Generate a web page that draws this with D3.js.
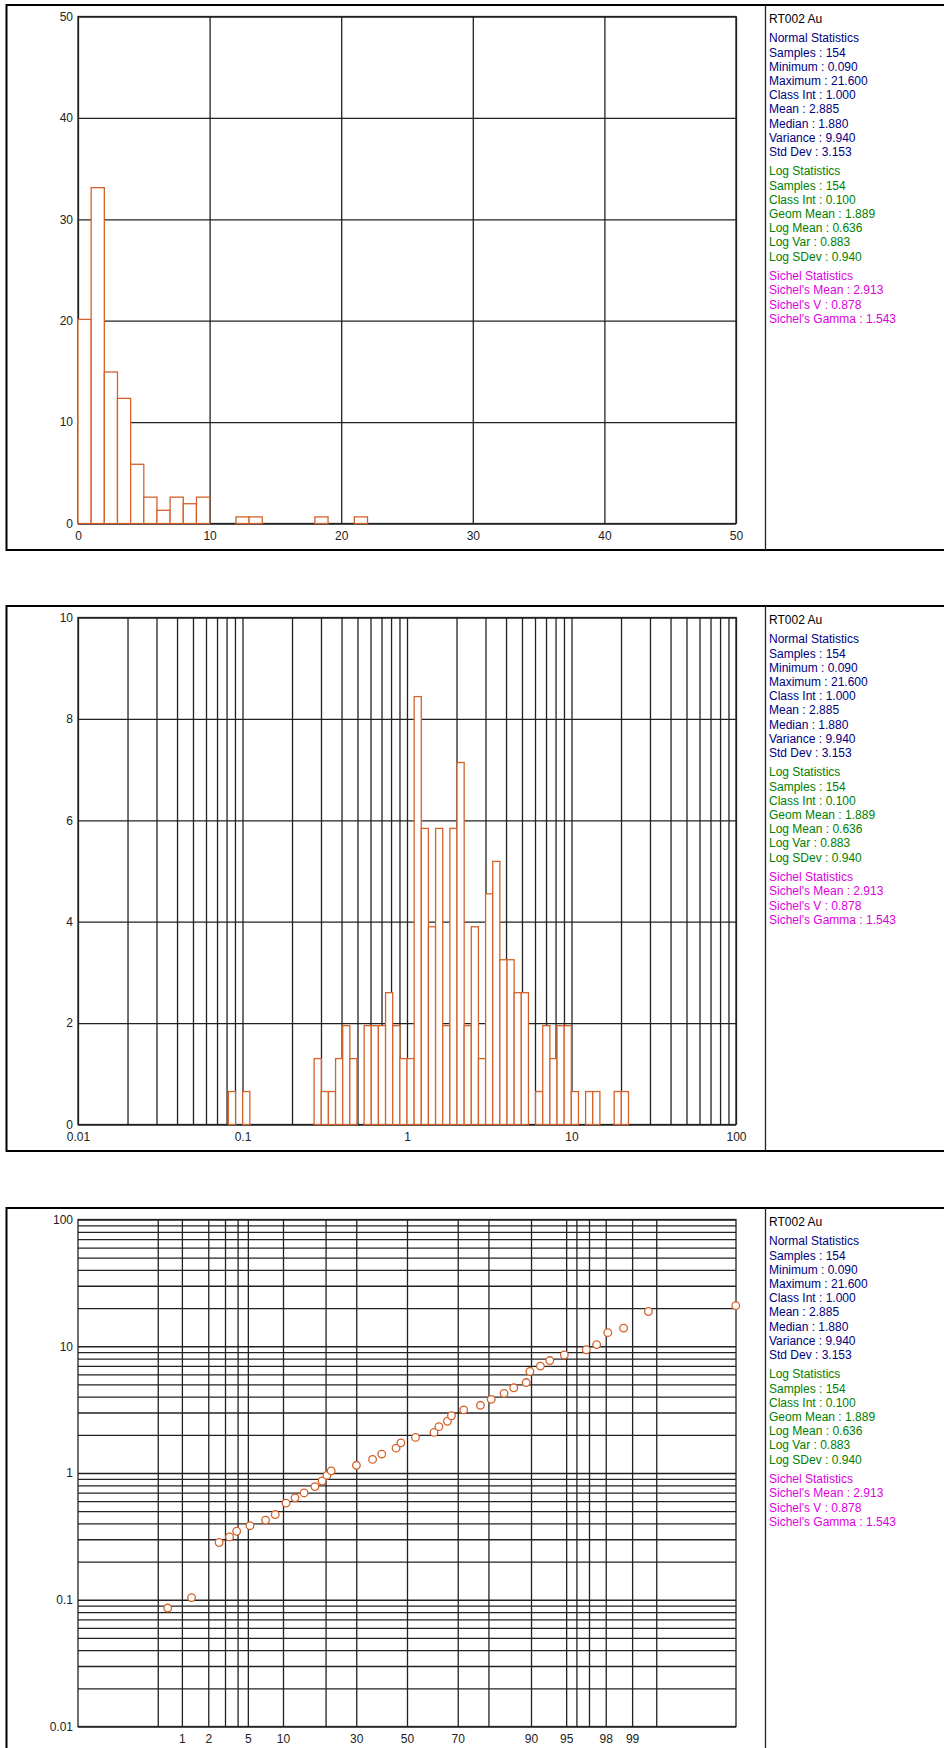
<!DOCTYPE html>
<html>
<head>
<meta charset="utf-8">
<script src="https://cdn.jsdelivr.net/npm/d3@7"></script>
<style>
  html, body { margin: 0; padding: 0; background: #fff; }
  svg { display: block; }
  text { font-family: "Liberation Sans", Arial, sans-serif; font-size: 12px; }
</style>
</head>
<body>
<svg id="page" width="944" height="1748"></svg>
<script>
// ---------- Data: RT002 Au, 154 samples ----------

// Linear histogram (class interval 1.0), lower bin edges and % of samples
const linBinStart = [0, 1, 2, 3, 4, 5, 6, 7, 8, 9, 12, 13, 18, 21];
const linPct      = [20.13, 33.12, 14.94, 12.34, 5.84, 2.60, 1.30, 2.60, 1.95, 2.60, 0.65, 0.65, 0.65, 0.65];
const linTicks    = [0, 10, 20, 30, 40, 50];
const linPctTicks = [0, 10, 20, 30, 40, 50];

// Log histogram (class interval 0.1 in ln units): class index k covers [e^(0.1k), e^(0.1(k+1)))
const logClassInt = 0.1;
const logBinIndex = [-25, -23, -13, -12, -11, -10, -9, -8, -6, -5, -4, -3, -2, -1, 0, 1, 2, 3, 4, 5, 6, 7,
                     8, 9, 10, 11, 12, 13, 14, 15, 16, 18, 19, 20, 21, 22, 23, 25, 26, 29, 30];
const logPct      = [0.65, 0.65, 1.30, 0.65, 0.65, 1.30, 1.95, 1.30, 1.95, 1.95, 1.95, 2.60, 1.95, 1.30, 1.30,
                     8.44, 5.84, 3.90, 5.84, 1.95, 5.84, 7.14,
                     1.95, 3.90, 1.30, 4.55, 5.19, 3.25, 3.25, 2.60, 2.60, 0.65, 1.95, 1.30, 1.95, 1.95, 0.65,
                     0.65, 0.65, 0.65, 0.65];
const logDecadeLabels = [0.01, 0.1, 1, 10, 100];
const logPctTicks = [0, 2, 4, 6, 8, 10];

// Cumulative probability plot: cumulative % and value
const probPct = [0.67, 1.30, 2.61, 3.33, 3.92, 5.23, 7.19, 8.66, 10.56, 12.36, 14.37, 17.06, 19.02, 20.4, 21.66,
                 30.05, 36.1, 39.7, 45.5, 47.5, 53.5, 61.0, 62.9, 66.2, 67.7, 72.1, 77.6, 80.8, 84.2, 86.5,
                 89.1, 89.8, 91.6, 93.0, 94.8, 96.8, 97.5, 98.1, 98.74, 99.37, 99.966];
const probValue = [0.086, 0.104, 0.283, 0.313, 0.347, 0.384, 0.425, 0.470, 0.579, 0.637, 0.696, 0.781, 0.865, 0.957, 1.04,
                   1.15, 1.28, 1.41, 1.57, 1.73, 1.91, 2.09, 2.32, 2.56, 2.83, 3.15, 3.42, 3.81, 4.25, 4.70,
                   5.17, 6.33, 6.97, 7.71, 8.54, 9.38, 10.3, 12.8, 13.9, 18.8, 20.9];
const probGridPct  = [0.5, 1, 2, 3, 4, 5, 10, 20, 30, 50, 70, 80, 90, 95, 96, 97, 98, 99, 99.5];
const probLabelPct = [1, 2, 5, 10, 30, 50, 70, 90, 95, 98, 99];
const probZExtent  = [-3.4, 3.4];
const valueDecadeLabels = [0.01, 0.1, 1, 10, 100];

// Statistics panel
const statTitle = "RT002 Au";
const normalStats = ["Normal Statistics", "Samples : 154", "Minimum : 0.090", "Maximum : 21.600", "Class Int : 1.000",
                     "Mean : 2.885", "Median : 1.880", "Variance : 9.940", "Std Dev : 3.153"];
const logStats = ["Log Statistics", "Samples : 154", "Class Int : 0.100", "Geom Mean : 1.889", "Log Mean : 0.636",
                  "Log Var : 0.883", "Log SDev : 0.940"];
const sichelStats = ["Sichel Statistics", "Sichel's Mean : 2.913", "Sichel's V : 0.878", "Sichel's Gamma : 1.543"];

// ---------- Layout & style ----------
const frameTops = [5, 606, 1208];
const frameLeft = 6.5, frameHeight = 545;
const plotLeft = 78, plotRight = 736, plotOffset = 11.5, plotHeight = 507;
const dividerX = 765.5, statX = 769;
const barColor = "#d4622a";
const gridColor = "#222";
const statColors = { title: "#000", normal: "#000080", log: "#008000", sichel: "#dd00dd" };

const svg = d3.select("#page");

// Inverse standard normal CDF (Acklam's rational approximation)
function probit(p) {
  const a = [-3.969683028665376e+01, 2.209460984245205e+02, -2.759285104469687e+02, 1.383577518672690e+02, -3.066479806614716e+01, 2.506628277459239e+00];
  const b = [-5.447609879822406e+01, 1.615858368580409e+02, -1.556989798598866e+02, 6.680131188771972e+01, -1.328068155288572e+01];
  const c = [-7.784894002430293e-03, -3.223964580411365e-01, -2.400758277161838e+00, -2.549732539343734e+00, 4.374664141464968e+00, 2.938163982698783e+00];
  const d = [7.784695709041462e-03, 3.224671290700398e-01, 2.445134137142996e+00, 3.754408661907416e+00];
  const pl = 0.02425, ph = 1 - pl;
  let q, r;
  if (p < pl) {
    q = Math.sqrt(-2 * Math.log(p));
    return (((((c[0]*q+c[1])*q+c[2])*q+c[3])*q+c[4])*q+c[5]) / ((((d[0]*q+d[1])*q+d[2])*q+d[3])*q+1);
  }
  if (p <= ph) {
    q = p - 0.5; r = q * q;
    return (((((a[0]*r+a[1])*r+a[2])*r+a[3])*r+a[4])*r+a[5])*q / (((((b[0]*r+b[1])*r+b[2])*r+b[3])*r+b[4])*r+1);
  }
  q = Math.sqrt(-2 * Math.log(1 - p));
  return -(((((c[0]*q+c[1])*q+c[2])*q+c[3])*q+c[4])*q+c[5]) / ((((d[0]*q+d[1])*q+d[2])*q+d[3])*q+1);
}

// Multiples 1..9 of each decade between lo and hi
function logGrid(lo, hi) {
  const out = [];
  for (let e = Math.round(Math.log10(lo)); e < Math.round(Math.log10(hi)); e++) {
    for (let m = 1; m <= 9; m++) out.push(+(m * Math.pow(10, e)).toPrecision(3));
  }
  out.push(hi);
  return out;
}

function styleAxis(g) {
  g.select(".domain").remove();
  g.selectAll(".tick line").attr("stroke", gridColor).attr("stroke-width", 1.3);
  g.selectAll(".tick text")
    .attr("fill", "#222")
    .style("font-family", '"Liberation Sans", Arial, sans-serif')
    .style("font-size", "12px");
}

function drawFrame(top) {
  svg.append("rect")
    .attr("x", frameLeft).attr("y", top)
    .attr("width", 1000).attr("height", frameHeight)
    .attr("fill", "none").attr("stroke", "#000").attr("stroke-width", 2);
  svg.append("line")
    .attr("x1", dividerX).attr("x2", dividerX)
    .attr("y1", top).attr("y2", top + frameHeight)
    .attr("stroke", "#222").attr("stroke-width", 1.3);
  drawStats(top);
}

function drawStats(top) {
  const g = svg.append("g");
  const lineH = 14.2, groupGap = 4.8;
  let y = top + 18.3;
  g.append("text").attr("x", statX).attr("y", y).attr("fill", statColors.title).text(statTitle);
  y += lineH + groupGap;
  [[normalStats, statColors.normal], [logStats, statColors.log], [sichelStats, statColors.sichel]]
    .forEach(([lines, col], gi) => {
      if (gi > 0) y += groupGap + 0.5;
      lines.forEach(t => {
        g.append("text").attr("x", statX).attr("y", y).attr("fill", col).text(t);
        y += lineH;
      });
    });
}

function plotBorder(g, h) {
  g.append("rect")
    .attr("x", 0).attr("y", 0)
    .attr("width", plotRight - plotLeft).attr("height", h)
    .attr("fill", "none").attr("stroke", gridColor).attr("stroke-width", 1.3);
}

const plotW = plotRight - plotLeft;

// ---------- Chart 1: linear histogram ----------
(function () {
  const top = frameTops[0];
  drawFrame(top);
  const g = svg.append("g").attr("transform", `translate(${plotLeft},${top + plotOffset})`);
  const x = d3.scaleLinear().domain([0, 50]).range([0, plotW]);
  const y = d3.scaleLinear().domain([0, 50]).range([plotHeight, 0]);

  g.append("g").call(d3.axisLeft(y).tickValues(linPctTicks).tickSize(-plotW).tickPadding(5).tickFormat(d3.format("d"))).call(styleAxis);
  g.append("g").attr("transform", `translate(0,${plotHeight})`)
    .call(d3.axisBottom(x).tickValues(linTicks).tickSize(-plotHeight).tickPadding(8).tickFormat(d3.format("d"))).call(styleAxis);
  plotBorder(g, plotHeight);

  g.selectAll("rect.bar").data(linBinStart.map((s, i) => ({ s, v: linPct[i] })))
    .join("rect").attr("class", "bar")
    .attr("x", d => x(d.s)).attr("width", d => x(d.s + 1) - x(d.s))
    .attr("y", d => y(d.v)).attr("height", d => y(0) - y(d.v))
    .attr("fill", "#fff").attr("stroke", barColor).attr("stroke-width", 1.3);
})();

// ---------- Chart 2: log histogram ----------
(function () {
  const top = frameTops[1];
  drawFrame(top);
  const g = svg.append("g").attr("transform", `translate(${plotLeft},${top + plotOffset})`);
  const x = d3.scaleLog().domain([0.01, 100]).range([0, plotW]);
  const y = d3.scaleLinear().domain([0, 10]).range([plotHeight, 0]);

  const labelSet = new Set(logDecadeLabels.map(String));
  g.append("g").call(d3.axisLeft(y).tickValues(logPctTicks).tickSize(-plotW).tickPadding(5).tickFormat(d3.format("d"))).call(styleAxis);
  g.append("g").attr("transform", `translate(0,${plotHeight})`)
    .call(d3.axisBottom(x).tickValues(logGrid(0.01, 100)).tickSize(-plotHeight).tickPadding(8)
      .tickFormat(d => labelSet.has(String(d)) ? String(d) : "")).call(styleAxis);
  plotBorder(g, plotHeight);

  const bins = logBinIndex.map((k, i) => ({
    x0: Math.exp(k * logClassInt), x1: Math.exp((k + 1) * logClassInt), v: logPct[i]
  }));
  g.selectAll("rect.bar").data(bins)
    .join("rect").attr("class", "bar")
    .attr("x", d => x(d.x0)).attr("width", d => x(d.x1) - x(d.x0))
    .attr("y", d => y(d.v)).attr("height", d => y(0) - y(d.v))
    .attr("fill", "#fff").attr("stroke", barColor).attr("stroke-width", 1.3);
})();

// ---------- Chart 3: cumulative probability plot ----------
(function () {
  const top = frameTops[2];
  drawFrame(top);
  const g = svg.append("g").attr("transform", `translate(${plotLeft},${top + plotOffset})`);
  const z = d3.scaleLinear().domain(probZExtent).range([0, plotW]);
  const y = d3.scaleLog().domain([0.01, 100]).range([plotHeight, 0]);

  const ySet = new Set(valueDecadeLabels.map(String));
  g.append("g").call(d3.axisLeft(y).tickValues(logGrid(0.01, 100)).tickSize(-plotW).tickPadding(5)
      .tickFormat(d => ySet.has(String(d)) ? String(d) : "")).call(styleAxis);

  const xSet = new Set(probLabelPct);
  g.append("g").attr("transform", `translate(0,${plotHeight})`)
    .call(d3.axisBottom(z).tickValues(probGridPct.map(p => probit(p / 100))).tickSize(-plotHeight).tickPadding(8)
      .tickFormat((d, i) => xSet.has(probGridPct[i]) ? String(probGridPct[i]) : "")).call(styleAxis);
  plotBorder(g, plotHeight);

  g.selectAll("circle.pt").data(probPct.map((p, i) => ({ p, v: probValue[i] })))
    .join("circle").attr("class", "pt")
    .attr("cx", d => Math.min(plotW, z(probit(d.p / 100))))
    .attr("cy", d => y(d.v))
    .attr("r", 3.8)
    .attr("fill", "#fff").attr("stroke", barColor).attr("stroke-width", 1.3);
})();
</script>
</body>
</html>
